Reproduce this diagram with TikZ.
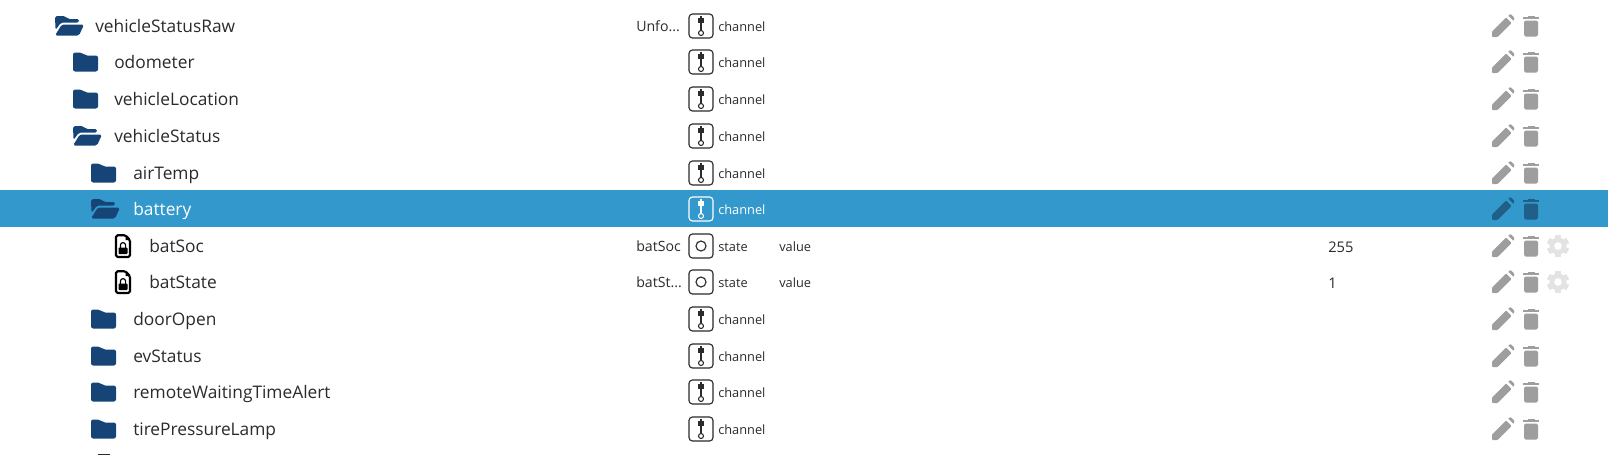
\documentclass[tikz,border=0pt]{standalone}
\usepackage{fontspec}
\setmainfont{Open Sans}
\definecolor{folderblue}{HTML}{164477}
\definecolor{hilite}{HTML}{3399CC}
\definecolor{ink}{HTML}{2B2B2B}
\definecolor{actgray}{HTML}{9E9E9E}
\definecolor{gearc}{HTML}{E3E3E3}
\definecolor{actdark}{HTML}{205F87}
\tikzset{
  x=0.75pt,y=-0.75pt,
  nametext/.style={inner sep=0,anchor=base west,text=ink,font=\fontsize{13pt}{15pt}\selectfont},
  smalltext/.style={inner sep=0,anchor=base west,text=ink,font=\fontsize{9.6pt}{12pt}\selectfont},
  labeltext/.style={inner sep=0,anchor=base west,text=ink,font=\fontsize{10.6pt}{12pt}\selectfont},
  pics/closedfolder/.style={code={
    \fill[folderblue,rounded corners=1.6pt] (0,-9.5) -- (9,-9.5) -- (12,-6.5) -- (25,-6.5) -- (25,9.5) -- (0,9.5) -- cycle;
  }},
  pics/openfolder/.style={code={
    \fill[folderblue,rounded corners=1.3pt] (0,-10) -- (10,-10) -- (13,-7) -- (24,-7) -- (24,-3.5) -- (6,-3.5) -- (0.5,4) -- cycle;
    \fill[folderblue,rounded corners=1.3pt] (6.8,-1.5) -- (29,-1.5) -- (24,9.5) -- (0,9.5) -- cycle;
  }},
  pics/lockfile/.style={code={
    \draw[black,line width=1.6pt,line join=round,rounded corners=1.2pt] (-7,-10.8) -- (2.5,-10.8) -- (7,-6) -- (7,11) -- (-7,11) -- cycle;
    \fill[black] (2.5,-10.8) -- (2.5,-6) -- (7,-6) -- cycle;
    \fill[black,rounded corners=0.6pt] (-4.5,1.5) rectangle (4.5,8);
    \draw[black,line width=0.9pt] (-2.6,1.8) -- (-2.6,-0.8) arc[start angle=180,end angle=360,radius=2.6] -- (2.6,1.8);
  }},
  pics/channelicon/.style={code={
    \draw[#1,line width=0.85pt,rounded corners=2.6pt] (-12,-12) rectangle (12,12);
    \fill[#1] (-2.6,-8) rectangle (2.6,-3);
    \draw[#1,line width=0.9pt] (0,-10) -- (0,4);
    \draw[#1,line width=0.8pt] (0,7) circle[radius=2.5];
  }},
  pics/stateicon/.style={code={
    \draw[ink,line width=0.85pt,rounded corners=2.6pt] (-12,-12) rectangle (12,12);
    \draw[ink,line width=0.85pt] (0,0) circle[radius=5];
  }},
  pics/pencilicon/.style={code={
    \fill[#1,rounded corners=0.6pt] (-11,11) -- (-11,5.5) -- (3,-8.5) -- (8.5,-3) -- (-5.5,11) -- cycle;
    \fill[#1,rounded corners=0.6pt] (5,-10.5) -- (7.5,-12) -- (11.5,-8) -- (10.5,-5) -- cycle;
  }},
  pics/trashicon/.style={code={
    \fill[#1,rounded corners=1.2pt] (-7,-5.5) -- (7,-5.5) -- (7,10.5) -- (-7,10.5) -- cycle;
    \fill[#1] (-8,-8.8) rectangle (8,-7);
    \fill[#1] (-3.5,-10.5) rectangle (3.5,-8);
  }},
  pics/gearicon/.style={code={
    \foreach \a in {0,60,...,300}{
      \fill[gearc,rotate=\a] (-2.8,-11) rectangle (2.8,11);
    }
    \fill[gearc] (0,0) circle[radius=8.5];
    \fill[white] (0,0) circle[radius=3.8];
  }},
}
\begin{document}
\begin{tikzpicture}
\useasboundingbox (0,0) rectangle (1608,455);
\fill[white] (0,0) rectangle (1608,455);
\fill[hilite] (0,190) rectangle (1608,227);
% folders
\pic at (55,26) {openfolder};
\pic at (73,62) {closedfolder};
\pic at (73,99) {closedfolder};
\pic at (73,136) {openfolder};
\pic at (91,173) {closedfolder};
\pic at (91,209) {openfolder};
\pic at (91,319) {closedfolder};
\pic at (91,356) {closedfolder};
\pic at (91,392) {closedfolder};
\pic at (91,429) {closedfolder};
\pic at (123,246) {lockfile};
\pic at (123,282) {lockfile};
% names
\node[nametext] (n1) at (95,32) {vehicleStatusRaw};
\node[nametext] (n2) at (114,68) {odometer};
\node[nametext] (n3) at (114,105) {vehicleLocation};
\node[nametext] (n4) at (114,142) {vehicleStatus};
\node[nametext] (n5) at (133,179) {airTemp};
\node[nametext,text=white] (n6) at (133,215) {battery};
\node[nametext] (n7) at (149,252) {batSoc};
\node[nametext] (n8) at (149,288) {batState};
\node[nametext] (n9) at (133,325) {doorOpen};
\node[nametext] (n10) at (133,362) {evStatus};
\node[nametext] (n11) at (133,398) {remoteWaitingTimeAlert};
\node[nametext] (n12) at (133,435) {tirePressureLamp};
% short names
\node[labeltext] (s1) at (636,31) {Unfo...};
\node[labeltext] (s2) at (636,251) {batSoc};
\node[labeltext] (s3) at (636,287) {batSt...};
% type icons
\foreach \y in {26,62,99,136,173,319,356,392,429}{
  \pic at (701,\y) {channelicon=ink};
  \node[smalltext] at (718,\y+5.5) {channel};
}
\pic at (701,209) {channelicon=white};
\node[smalltext,text=white] (c6) at (718,214.5) {channel};
\foreach \y in {246,282}{
  \pic at (701,\y) {stateicon};
  \node[smalltext] at (718,\y+5.5) {state};
  \node[smalltext] at (779,\y+5.5) {value};
}
% values
\node[labeltext,font=\fontsize{11pt}{12pt}\selectfont] (v1) at (1328,252) {255};
\node[labeltext,font=\fontsize{11pt}{12pt}\selectfont] (v2) at (1328,288) {1};
% actions
\foreach \y in {26,62,99,136,173,246,282,319,356,392,429}{
  \pic at (1503,\y) {pencilicon=actgray};
  \pic at (1531,\y) {trashicon=actgray};
}
\pic at (1503,209) {pencilicon=actdark};
\pic at (1531,209) {trashicon=actdark};
\pic at (1558,246) {gearicon};
\pic at (1558,282) {gearicon};
% clipped next row
\fill[ink] (98,453.5) rectangle (110,455);
\end{tikzpicture}
\end{document}
